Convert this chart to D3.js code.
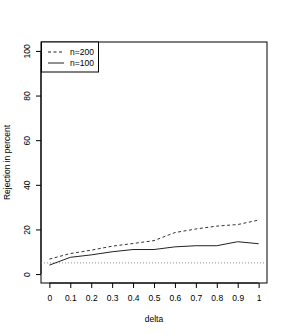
<!DOCTYPE html>
<html>
<head>
<meta charset="utf-8">
<script src="https://cdn.jsdelivr.net/npm/d3@7"></script>
<style>
  body { margin: 0; background: #fff; }
  text { font-family: "Liberation Sans", Arial, sans-serif; fill: #000; }
</style>
</head>
<body>
<div id="chart"></div>
<script>
// data
var deltas = [0, 0.1, 0.2, 0.3, 0.4, 0.5, 0.6, 0.7, 0.8, 0.9, 1];
var n200 = [6.7, 9.2, 10.7, 12.5, 13.7, 15.0, 18.6, 20.2, 21.5, 22.2, 24.2];
var n100 = [4.0, 7.5, 8.6, 10.0, 11.0, 11.0, 12.2, 12.7, 12.7, 14.5, 13.6];
var nominalLevel = 5;
var yTicks = [0, 20, 40, 60, 80, 100];
var legendLabels = ["n=200", "n=100"];

var svgWidth = 288, svgHeight = 335;
var margin = { top: 42, right: 21, bottom: 52, left: 41 };
var width = svgWidth - margin.left - margin.right;
var height = svgHeight - margin.top - margin.bottom;

var svg = d3.select("#chart").append("svg")
    .attr("width", svgWidth)
    .attr("height", svgHeight)
    .append("g")
    .attr("transform", "translate(" + margin.left + "," + margin.top + ")");

// scales (R-style 4% padding)
var x = d3.scaleLinear().domain([-0.04, 1.04]).range([0, width]);
var y = d3.scaleLinear().domain([-4, 104]).range([height, 0]);

// plot box
svg.append("rect")
    .attr("width", width)
    .attr("height", height)
    .attr("fill", "none")
    .attr("stroke", "#000")
    .attr("stroke-width", 1);

// x axis
var xAxis = svg.append("g")
    .attr("transform", "translate(0," + height + ")")
    .call(d3.axisBottom(x).tickValues(deltas).tickFormat(d3.format("")).tickSize(5).tickPadding(7));
xAxis.select(".domain").attr("d", "M" + x(0) + ",0H" + x(1));
xAxis.selectAll("text").attr("font-size", "8.5px");

// y axis
var yAxis = svg.append("g")
    .call(d3.axisLeft(y).tickValues(yTicks).tickSize(5).tickPadding(0));
yAxis.select(".domain").attr("d", "M0," + y(0) + "V" + y(100));
yAxis.selectAll("text")
    .attr("font-size", "8.5px")
    .attr("text-anchor", "middle")
    .attr("x", 0)
    .attr("dy", 0)
    .attr("transform", "translate(-11,0) rotate(-90)");

// axis titles
svg.append("text")
    .attr("x", width / 2)
    .attr("y", height + 39)
    .attr("text-anchor", "middle")
    .attr("font-size", "8.5px")
    .text("delta");

svg.append("text")
    .attr("transform", "translate(-31," + (height / 2) + ") rotate(-90)")
    .attr("text-anchor", "middle")
    .attr("font-size", "8.5px")
    .text("Rejection in percent");

// nominal level
svg.append("line")
    .attr("x1", 0).attr("x2", width)
    .attr("y1", y(nominalLevel)).attr("y2", y(nominalLevel))
    .attr("stroke", "#777")
    .attr("stroke-width", 0.8)
    .attr("stroke-dasharray", "1,2");

var line = d3.line()
    .x(function(d, i) { return x(deltas[i]); })
    .y(function(d) { return y(d); });

svg.append("path")
    .datum(n200)
    .attr("d", line)
    .attr("fill", "none")
    .attr("stroke", "#333")
    .attr("stroke-width", 1)
    .attr("stroke-dasharray", "3,2.5");

svg.append("path")
    .datum(n100)
    .attr("d", line)
    .attr("fill", "none")
    .attr("stroke", "#222")
    .attr("stroke-width", 1);

// legend
var legend = svg.append("g");
legend.append("rect")
    .attr("x", 0.5).attr("y", 0)
    .attr("width", 57).attr("height", 30)
    .attr("fill", "#fff")
    .attr("stroke", "#000");

var dashes = ["3,2.5", null];
for (i = 0; i < legendLabels.length; i++) {
    var ly = 10 + i * 11;
    legend.append("line")
        .attr("x1", 7).attr("x2", 23)
        .attr("y1", ly).attr("y2", ly)
        .attr("stroke", "#222")
        .attr("stroke-width", 1)
        .attr("stroke-dasharray", dashes[i]);
    legend.append("text")
        .attr("x", 29)
        .attr("y", ly + 3)
        .attr("font-size", "8.5px")
        .text(legendLabels[i]);
}
</script>
</body>
</html>
